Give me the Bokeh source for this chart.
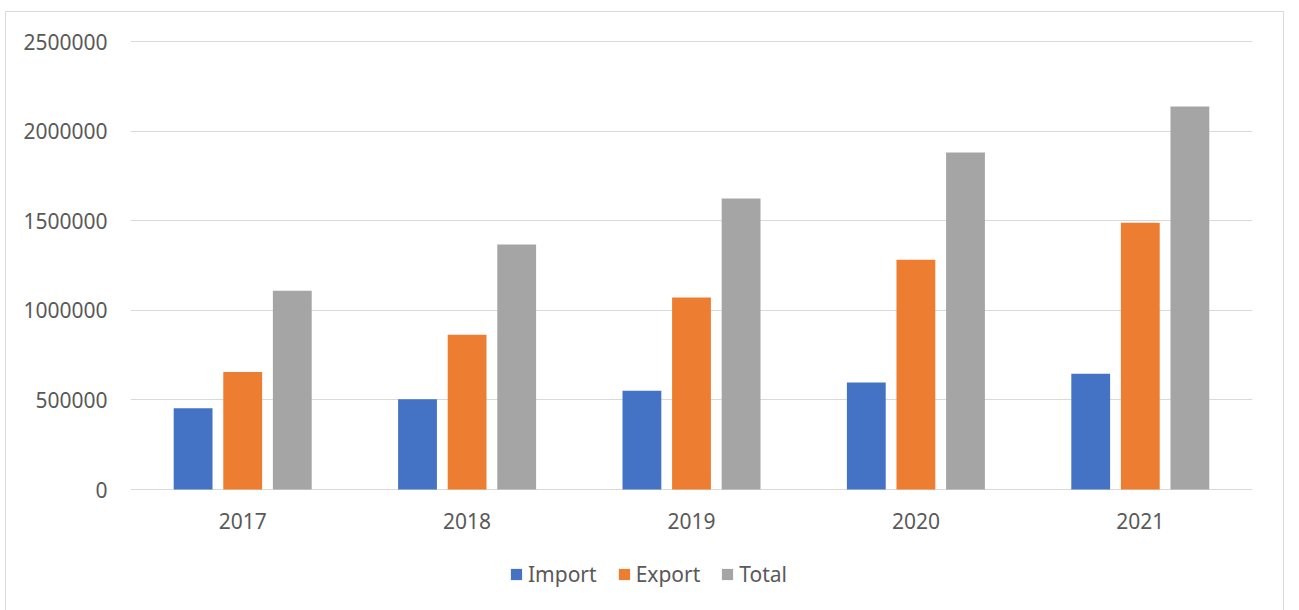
from bokeh.plotting import figure
from bokeh.models import (FactorRange, Range1d, FixedTicker, NumeralTickFormatter,
                          Legend, LegendItem, ColumnDataSource)
from bokeh.transform import dodge
from bokeh.embed import file_html
from bokeh.resources import INLINE

years = ["2017", "2018", "2019", "2020", "2021"]
import_vals = [454000, 503000, 551000, 597000, 646000]
export_vals = [655000, 863000, 1071000, 1282000, 1488000]
total_vals = [1109000, 1367000, 1624000, 1881000, 2137000]
series = ["Import", "Export", "Total"]
colors = ["#4472C4", "#ED7D31", "#A5A5A5"]
y_ticks = [0, 500000, 1000000, 1500000, 2000000, 2500000]

src = ColumnDataSource(dict(year=years, Import=import_vals, Export=export_vals, Total=total_vals))

FONT = "Noto Sans"
TXT = "#595959"
GRID = "#d9d9d9"

# layout (pixels): value area 448 px tall, 2 px headroom so the top grid line shows,
# extra 108 px below zero for the category labels and the legend
VAL_PX = 448
TOP_PX = 2
BELOW_PX = 108
y_max = 2500000
per_px = y_max / VAL_PX
y_top = y_max + per_px * TOP_PX
y_min = -per_px * BELOW_PX

p = figure(x_range=FactorRange(*years), y_range=Range1d(y_min, y_top),
           frame_width=1122, frame_height=VAL_PX + TOP_PX + BELOW_PX,
           output_backend="svg", toolbar_location=None,
           min_border_left=124, min_border_right=31, min_border_top=27, min_border_bottom=14)
p.outline_line_color = None
p.background_fill_color = "white"
p.border_fill_color = "white"
p.styles = {"border": "1px solid #d9d9d9", "margin-left": "5px", "margin-top": "11px"}

offsets = [-0.221, 0.0, 0.221]
renderers = []
for name, col, off in zip(series, colors, offsets):
    r = p.vbar(x=dodge("year", off, range=p.x_range), top=name, width=0.173,
               source=src, fill_color=col, line_color=None)
    renderers.append(r)

p.yaxis.ticker = FixedTicker(ticks=y_ticks)
p.yaxis.formatter = NumeralTickFormatter(format="0")
p.ygrid.ticker = FixedTicker(ticks=y_ticks)
p.ygrid.grid_line_color = GRID
p.ygrid.grid_line_width = 1
p.xgrid.grid_line_color = None
p.xaxis.fixed_location = 0

for ax in (p.xaxis[0], p.yaxis[0]):
    ax.axis_line_color = None
    ax.major_tick_line_color = None
    ax.minor_tick_line_color = None
    ax.major_tick_out = 0
    ax.major_tick_in = 0
    ax.major_label_text_font = FONT
    ax.major_label_text_font_size = "21px"
    ax.major_label_text_color = TXT
p.yaxis.major_label_standoff = 23
p.xaxis.major_label_standoff = 23

legend = Legend(items=[LegendItem(label=n, renderers=[r]) for n, r in zip(series, renderers)],
                orientation="horizontal", location=(379, 9),
                glyph_width=14, glyph_height=14, label_standoff=5, spacing=20,
                padding=0, margin=0, border_line_color=None, background_fill_alpha=0,
                label_text_font=FONT, label_text_font_size="21px", label_text_color=TXT)
p.add_layout(legend, "center")

open("out.html", "w").write(file_html(p, INLINE))
